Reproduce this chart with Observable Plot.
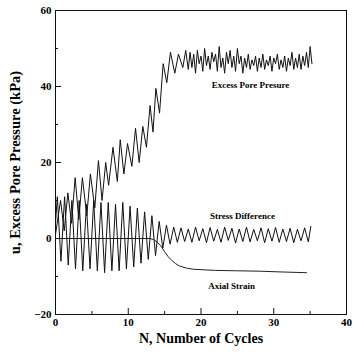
<!DOCTYPE html>
<html><head><meta charset="utf-8">
<script src="https://cdn.jsdelivr.net/npm/d3@7"></script>
<script src="https://cdn.jsdelivr.net/npm/@observablehq/plot@0.6"></script>
<style>html,body{margin:0;padding:0;background:#fff}</style>
</head><body><div id="chart"></div>
<script>
// Excess pore pressure (kPa) vs cycles
const ppN = [0.0,0.3,0.7,1.2,1.7,2.2,2.7,3.2,3.7,4.3,4.8,5.4,5.9,6.4,6.9,7.3,7.9,8.5,8.9,9.4,9.9,10.5,11.0,11.5,12.0,12.5,13.0,13.4,13.8,14.3,14.8,15.3,15.8,16.4,16.9,17.5,17.9,
  18.25,18.5,18.75,19,19.25,19.5,19.75,20,20.25,20.5,20.75,21,21.25,21.5,21.75,22,22.25,22.5,22.75,23,23.25,23.5,23.75,24,24.25,24.5,24.75,25,25.25,25.5,25.75,26,26.25,26.5,26.75,27,27.25,27.5,27.75,28,28.25,28.5,28.75,29,29.25,29.5,29.75,30,30.25,30.5,30.75,31,31.25,31.5,31.75,32,32.25,32.5,32.75,33,33.25,33.5,33.75,34,34.25,34.5,34.75,35,35.25];
const ppU = [1,5,10,2,12,4,16,5,16,6,17,8,20.5,10,20,14,24,15,26,17,25,19,29,20,29.5,24,35,28,39.5,33,46,41,49,43.5,48.5,45,49.5,
  44.5,49,45,48.5,43.5,49.5,46,48,44,50,45.5,48,44.5,49,46.5,48.5,44,50.5,45,47.5,43.5,49,46,49.5,45,48,44,50,46,48,43.5,47.5,45,48.5,44.5,47,45.5,48,44,47.5,45,48.5,44.5,47,45.5,48,44,47.5,46,48.5,44.5,47,45,48,44,47.5,45.5,49,44.5,47.5,45,48.5,44.5,48,45.5,49,45,50.5,46];

// Stress difference
const sdN = [0,0.25,0.75,1.25,1.75,2.25,2.75,3.25,3.75,4.25,4.75,5.25,5.75,6.25,6.75,7.25,7.75,8.25,8.75,9.25,9.75,10.25,10.75,11.25,11.75,12.25,12.75,13.25,13.75,14.25,14.75,15.25,15.75,16.25,16.75,17.25,17.75,18.25,18.75,19.25,19.75,20.25,20.75,21.25,21.75,22.25,22.75,23.25,23.75,24.25,24.75,25.25,25.75,26.25,26.75,27.25,27.75,28.25,28.75,29.25,29.75,30.25,30.75,31.25,31.75,32.25,32.75,33.25,33.75,34.25,34.75,35.1];
const sdQ = [4,11,-6,11,-7,10,-8,10,-8.5,9,-8,10,-8.5,9.5,-9,9.5,-8.5,9,-8.5,9.5,-8,8.5,-7.5,8,-6.5,7,-5.5,6,-4.5,4.5,-2.5,3.5,-1.5,3,-1,2.8,-0.8,2.5,-1,3,-0.6,2.6,-1.1,2.9,-0.7,2.4,-1,3,-0.5,2.7,-1.2,2.5,-0.8,3,-0.9,2.4,-0.6,2.8,-1.1,2.6,-0.7,2.9,-1,2.5,-0.8,2.7,-1.1,2.4,-0.6,2.8,-0.9,3.2];

// Axial strain
const asN = [0,13,13.5,14,14.5,15,15.5,16,16.5,17,18,19,20,22,25,28,31,34.5];
const asE = [0,0,-0.3,-1,-2,-3.5,-4.8,-5.8,-6.6,-7.2,-7.8,-8.1,-8.2,-8.4,-8.5,-8.6,-8.8,-9];

// Annotations
const noteText = ["Excess Pore Presure","Stress Difference","Axial Strain"];
const noteN = [26.8,25.7,24.2];
const noteY = [40.3,5.8,-12.4];

const xTicks = [0,10,20,30,40];
const xMinor = [5,15,25,35];
const yTicks = [-20,0,20,40,60];
const yMinor = [-10,10,30,50];
const xTitle = "N, Number of Cycles";
const yTitle = "u, Excess Pore Pressure (kPa)";

const W = 353, H = 353, mL = 55, mR = 7, mT = 10, mB = 39;
const innerW = W - mL - mR, innerH = H - mT - mB;
const serif = "'Liberation Serif','Times New Roman',serif";

const pp = ppN.map((n, i) => ({n, v: ppU[i]}));
const sd = sdN.map((n, i) => ({n, v: sdQ[i]}));
const ax = asN.map((n, i) => ({n, v: asE[i]}));
const notes = noteText.map((t, i) => ({t, n: noteN[i], v: noteY[i]}));

const chart = Plot.plot({
  width: W, height: H,
  marginLeft: mL, marginRight: mR, marginTop: mT, marginBottom: mB,
  style: {fontFamily: serif, fontWeight: "bold", fontSize: "11px", background: "white", color: "black"},
  x: {domain: [0, 40]},
  y: {domain: [-20, 60]},
  marks: [
    Plot.frame({stroke: "#111", strokeWidth: 1}),
    Plot.tickX(xTicks, {x: d => d, insetTop: innerH - 6, stroke: "#111"}),
    Plot.tickX(xMinor, {x: d => d, insetTop: innerH - 3, stroke: "#111"}),
    Plot.tickY(yTicks, {y: d => d, insetRight: innerW - 6, stroke: "#111"}),
    Plot.tickY(yMinor, {y: d => d, insetRight: innerW - 3, stroke: "#111"}),
    Plot.axisX(xTicks, {tickSize: 0, tickPadding: 4, label: null}),
    Plot.axisY(yTicks, {tickSize: 0, tickPadding: 4, label: null}),
    Plot.line(ax, {x: "n", y: "v", stroke: "#222", strokeWidth: 1}),
    Plot.line(sd, {x: "n", y: "v", stroke: "#111", strokeWidth: 1}),
    Plot.line(pp, {x: "n", y: "v", stroke: "#111", strokeWidth: 1}),
    Plot.text(notes, {x: "n", y: "v", text: "t", fontSize: 9, fill: "black"}),
    Plot.text([xTitle], {frameAnchor: "bottom", dy: 28, text: d => d, fontSize: 14, textAnchor: "middle", fill: "black"}),
    Plot.text([yTitle], {frameAnchor: "left", dx: -40, rotate: -90, text: d => d, fontSize: 14.5, textAnchor: "middle", fill: "black"})
  ]
});
document.getElementById("chart").appendChild(chart);
</script>
</body></html>
